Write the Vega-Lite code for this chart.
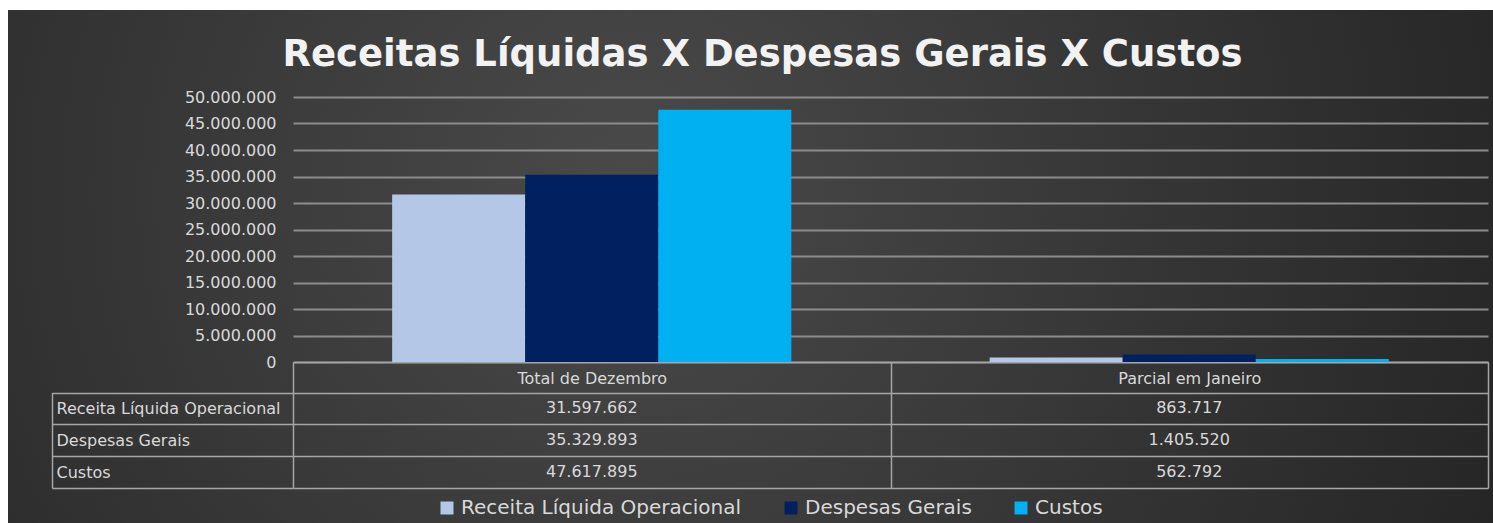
{
  "$schema": "https://vega.github.io/schema/vega-lite/v6.json",
  "width": 1485,
  "height": 513,
  "autosize": "none",
  "padding": {"left": 8, "top": 10, "right": 0, "bottom": 0},
  "background": "#ffffff",
  "view": {
    "stroke": null,
    "fill": {"gradient": "radial", "x1": 0.42, "y1": 0.45, "r1": 0, "x2": 0.42, "y2": 0.45, "r2": 0.75,
      "stops": [{"offset": 0, "color": "#4a4a4a"}, {"offset": 1, "color": "#1e1e1e"}]}
  },
  "config": {
    "locale": {"number": {"decimal": ",", "thousands": ".", "grouping": [3], "currency": ["R$", ""]}},
    "font": "DejaVu Sans",
    "view": {"stroke": null}
  },
  "title": {
    "text": "Receitas Líquidas X Despesas Gerais X Custos",
    "font": "DejaVu Sans",
    "fontSize": 37,
    "fontWeight": "bold",
    "color": "#f2f2f2",
    "anchor": "middle",
    "frame": "group",
    "offset": -101,
    "baseline": "alphabetic",
    "dx": 12
  },
  "datasets": {
    "valores": [
      {"periodo": "Total de Dezembro", "serie": "Receita Líquida Operacional", "valor": 31597662},
      {"periodo": "Total de Dezembro", "serie": "Despesas Gerais", "valor": 35329893},
      {"periodo": "Total de Dezembro", "serie": "Custos", "valor": 47617895},
      {"periodo": "Parcial em Janeiro", "serie": "Receita Líquida Operacional", "valor": 863717},
      {"periodo": "Parcial em Janeiro", "serie": "Despesas Gerais", "valor": 1405520},
      {"periodo": "Parcial em Janeiro", "serie": "Custos", "valor": 562792}
    ]
  },
  "data": {"name": "valores"},
  "layer": [
    {
      "mark": {"type": "bar"},
      "encoding": {
        "x": {
          "field": "periodo", "type": "nominal",
          "sort": ["Total de Dezembro", "Parcial em Janeiro"],
          "scale": {"range": [285, 1480], "paddingInner": 0, "paddingOuter": 0},
          "axis": {
            "orient": "bottom", "offset": -161, "title": null,
            "domain": true, "domainColor": "#a6a6a6", "domainWidth": 1.5,
            "ticks": true, "tickBand": "extent", "tickSize": 126, "tickColor": "#a6a6a6", "tickWidth": 1.5,
            "labelPadding": -110, "labelBaseline": "middle", "labelAngle": 0,
            "labelFontSize": 16, "labelColor": "#d9d9d9", "labelFont": "DejaVu Sans",
            "grid": false
          }
        },
        "xOffset": {
          "field": "serie", "type": "nominal",
          "sort": ["Receita Líquida Operacional", "Despesas Gerais", "Custos"],
          "scale": {"paddingOuter": 0.745, "paddingInner": 0}
        },
        "y": {
          "field": "valor", "type": "quantitative",
          "scale": {"domain": [0, 50000000], "range": [352, 87], "nice": false},
          "axis": {
            "orient": "left", "offset": -285, "title": null,
            "domain": false, "ticks": false,
            "grid": true, "gridColor": "#8c8c8c", "gridWidth": 2,
            "tickCount": 10, "format": ",d",
            "labelFontSize": 16, "labelColor": "#d9d9d9", "labelPadding": 17, "labelFont": "DejaVu Sans"
          }
        },
        "color": {
          "field": "serie", "type": "nominal",
          "sort": ["Receita Líquida Operacional", "Despesas Gerais", "Custos"],
          "scale": {"domain": ["Receita Líquida Operacional", "Despesas Gerais", "Custos"], "range": ["#b4c7e7", "#002060", "#00b0f0"]},
          "legend": {
            "orient": "none", "legendX": 429, "legendY": 488, "direction": "horizontal",
            "title": null, "symbolType": "square", "symbolSize": 169, "symbolStrokeWidth": 0,
            "symbolOpacity": 1, "labelLimit": 0,
            "labelFontSize": 20, "labelFont": "DejaVu Sans", "labelColor": "#d9d9d9",
            "columnPadding": 39, "labelOffset": 4, "padding": 0
          }
        }
      }
    },
    {
      "mark": {"type": "text", "fontSize": 16, "font": "DejaVu Sans", "color": "#d9d9d9", "baseline": "middle", "align": "center"},
      "encoding": {
        "x": {
          "field": "periodo", "type": "nominal",
          "sort": ["Total de Dezembro", "Parcial em Janeiro"],
          "scale": {"range": [285, 1480], "paddingInner": 0, "paddingOuter": 0}
        },
        "y": {
          "field": "serie", "type": "nominal",
          "sort": ["Receita Líquida Operacional", "Despesas Gerais", "Custos"],
          "scale": {"type": "band", "range": [382.5, 478], "paddingInner": 0, "paddingOuter": 0},
          "axis": {
            "orient": "left", "offset": -285, "title": null,
            "domain": false,
            "ticks": true, "tickBand": "extent", "tickSize": 241, "tickColor": "#a6a6a6", "tickWidth": 1.5,
            "grid": true, "gridColor": "#a6a6a6", "gridWidth": 1.5,
            "labelAlign": "left", "labelPadding": -4, "labelBaseline": "middle",
            "labelFontSize": 16, "labelColor": "#d9d9d9", "labelFont": "DejaVu Sans", "labelLimit": 0
          }
        },
        "text": {"field": "valor", "type": "quantitative", "format": ",d"}
      }
    },
    {
      "mark": {"type": "text", "opacity": 0},
      "encoding": {
        "y": {
          "field": "serie", "type": "nominal",
          "sort": ["Receita Líquida Operacional", "Despesas Gerais", "Custos"],
          "scale": {"type": "band", "range": [382.5, 478], "paddingInner": 0, "paddingOuter": 0},
          "axis": {
            "orient": "left", "offset": -44, "title": null,
            "domain": true, "domainColor": "#a6a6a6", "domainWidth": 1.5,
            "ticks": false, "labels": false, "grid": false
          }
        },
        "text": {"value": ""}
      }
    }
  ],
  "resolve": {"scale": {"y": "independent"}, "axis": {"y": "independent"}}
}
